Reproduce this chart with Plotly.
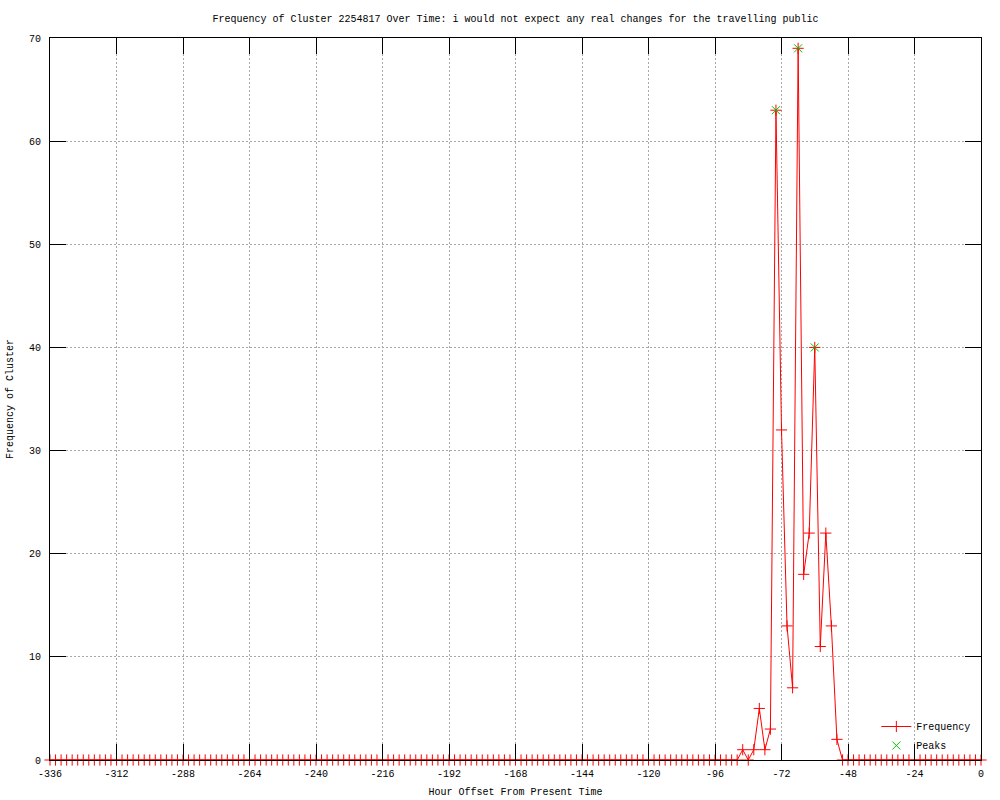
import plotly.graph_objects as go

# Sampling grid: every 2 hours from -336 to 0
hours = list(range(-336, 1, 2))

frequency = (
    [0] * 125 +
    [1, 0, 1, 5, 1, 3, 63, 32, 13, 7, 69, 18, 22, 40, 11, 22, 13, 2] +
    [0] * 26
)

peak_hours = [-74, -66, -60]
peak_values = [63, 69, 40]

x_ticks = [-336, -312, -288, -264, -240, -216, -192, -168, -144, -120, -96, -72, -48, -24, 0]
x_tick_labels = [str(v) for v in x_ticks]
y_ticks = [0, 10, 20, 30, 40, 50, 60, 70]
y_tick_labels = [str(v) for v in y_ticks]

title_text = "Frequency of Cluster 2254817 Over Time: i would not expect any real changes for the travelling public"
x_label = "Hour Offset From Present Time"
y_label = "Frequency of Cluster"

FONT = "Liberation Mono"
FS = 10

fig = go.Figure()
fig.add_trace(go.Scatter(
    x=hours, y=frequency, name="Frequency", mode="lines+markers",
    line=dict(color="#ff0000", width=1),
    marker=dict(symbol="cross-thin", size=8, line=dict(color="#ff0000", width=1)),
    cliponaxis=False,
))
fig.add_trace(go.Scatter(
    x=peak_hours, y=peak_values, name="Peaks", mode="markers",
    marker=dict(symbol="x-thin", size=8, line=dict(color="#00c000", width=1)),
    cliponaxis=False,
))

axis_common = dict(
    showline=True, linecolor="black", linewidth=1, mirror="ticks",
    ticks="inside", ticklen=16, tickwidth=1, tickcolor="black",
    showgrid=True, gridcolor="#a8a8a8", gridwidth=1, griddash="2px,2px",
    zeroline=False, automargin=False,
    tickfont=dict(family=FONT, size=FS, color="black"),
)

fig.update_layout(
    width=1000, height=800,
    paper_bgcolor="white", plot_bgcolor="white",
    margin=dict(l=50, r=19, t=38, b=40, autoexpand=False),
    font=dict(family=FONT, size=FS, color="black"),
    title=dict(text=title_text, x=0.5, xref="paper", y=1 - 18 / 800, yref="container",
               yanchor="middle", xanchor="center", automargin=False,
               font=dict(family=FONT, size=FS, color="black")),
    xaxis=dict(range=[-336, 0], tickvals=x_ticks, ticktext=x_tick_labels,
               ticklabelstandoff=4,
               title=dict(text=x_label, standoff=8, font=dict(family=FONT, size=FS)),
               **axis_common),
    yaxis=dict(range=[0, 70], tickvals=y_ticks, ticktext=y_tick_labels,
               ticklabelstandoff=6,
               title=dict(text=y_label, standoff=13, font=dict(family=FONT, size=FS)),
               **axis_common),
    legend=dict(x=0.995, y=0.0, xanchor="right", yanchor="bottom",
                bgcolor="rgba(0,0,0,0)", font=dict(family=FONT, size=FS),
                tracegroupgap=0, itemwidth=30),
    showlegend=True,
)

fig.write_html("out.html",
               config={"displayModeBar": False},
               post_script="document.body.style.margin='0';document.body.style.overflow='hidden';")
